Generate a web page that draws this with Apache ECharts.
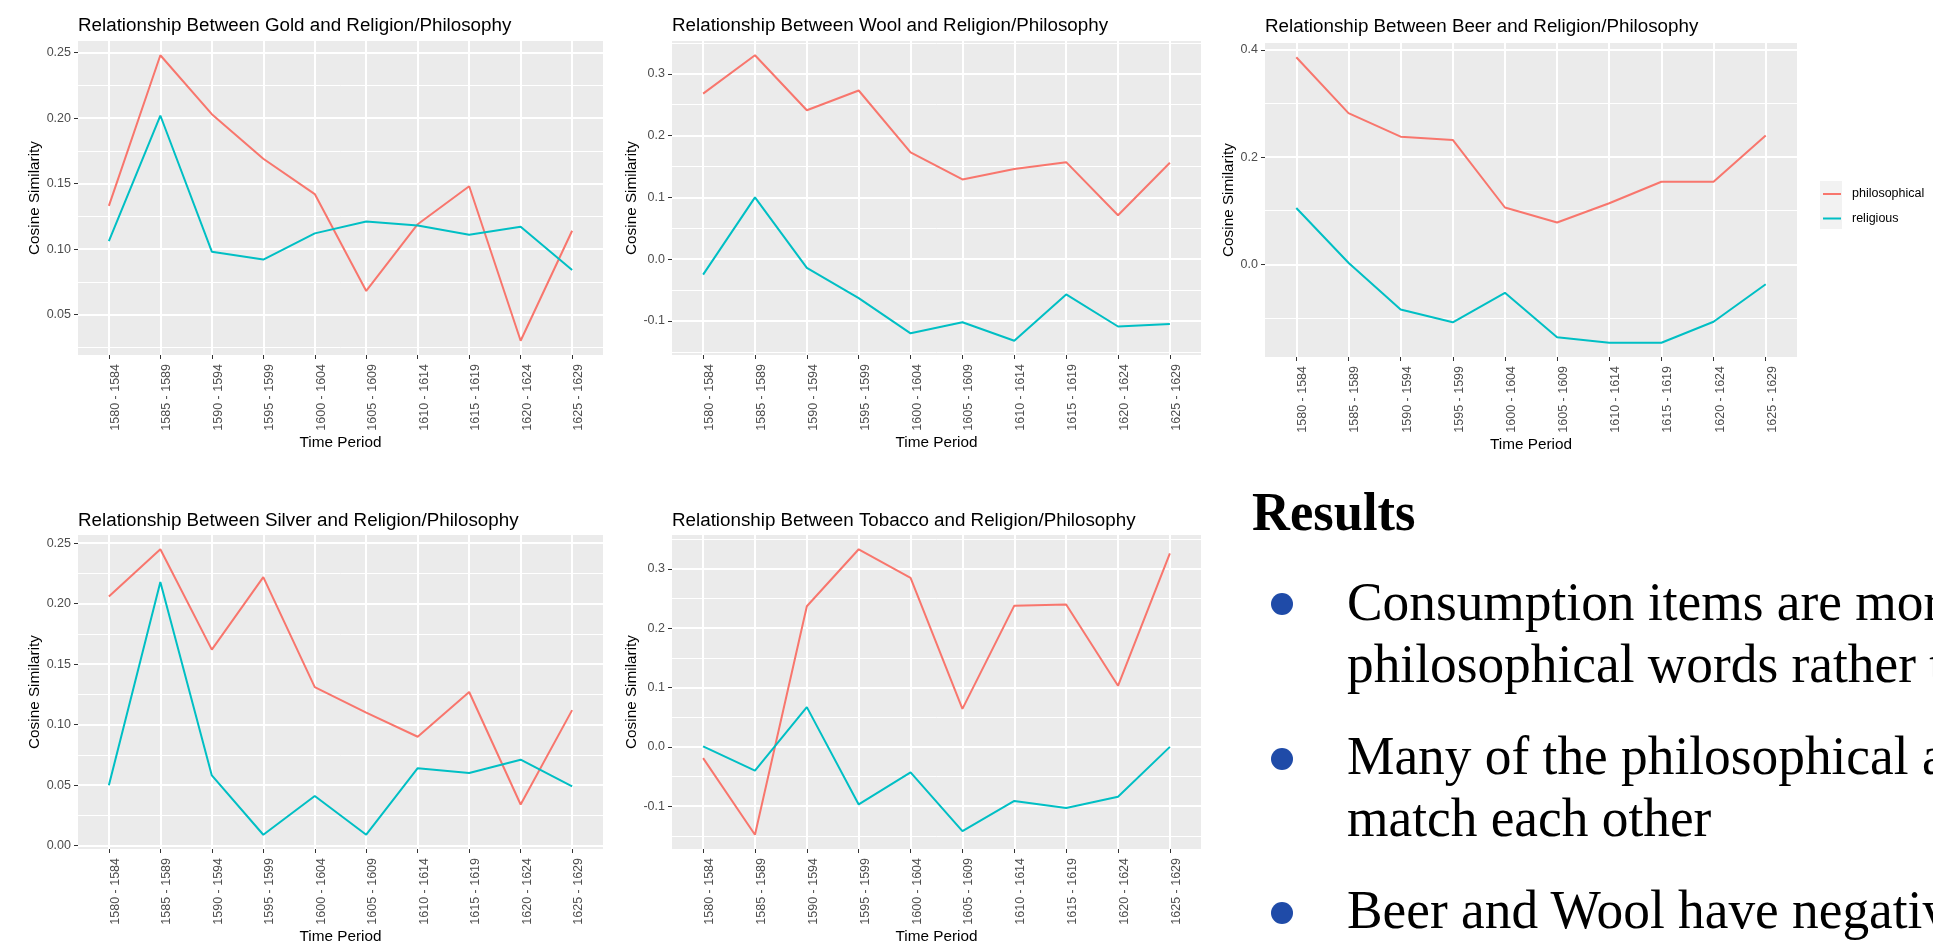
<!DOCTYPE html>
<html><head><meta charset="utf-8">
<script src="https://cdn.jsdelivr.net/npm/echarts@6/dist/echarts.min.js"></script>
<style>
html,body{margin:0;padding:0;background:#fff;width:1933px;height:945px;overflow:hidden;}
#chart{position:absolute;left:0;top:0;width:1933px;height:945px;}
.txt{position:absolute;font-family:"Liberation Serif","Times New Roman",serif;font-size:55px;line-height:55px;color:#000;white-space:nowrap;transform-origin:0 0;transform:scaleX(0.97);}
.bullet{position:absolute;width:22px;height:22px;border-radius:50%;background:#1F4BA8;}
</style></head><body>
<div id="chart"></div>
<div class="txt" style="left:1252px;top:484px;font-weight:bold;transform:scaleX(0.955)">Results</div>
<div class="bullet" style="left:1271px;top:593px"></div>
<div class="txt" style="left:1347px;top:574px">Consumption items are mor</div>
<div class="txt" style="left:1347px;top:636px">philosophical words rather t</div>
<div class="bullet" style="left:1271px;top:748px"></div>
<div class="txt" style="left:1347px;top:728px">Many of the philosophical a</div>
<div class="txt" style="left:1347px;top:790px">match each other</div>
<div class="bullet" style="left:1271px;top:902px"></div>
<div class="txt" style="left:1347px;top:882px">Beer and Wool have negativ</div>
<script>
const periods = ['1580 - 1584','1585 - 1589','1590 - 1594','1595 - 1599','1600 - 1604','1605 - 1609','1610 - 1614','1615 - 1619','1620 - 1624','1625 - 1629'];

const goldPhilosophical = [0.133, 0.248, 0.203, 0.169, 0.142, 0.068, 0.119, 0.148, 0.030, 0.114];
const goldReligious     = [0.106, 0.202, 0.098, 0.092, 0.112, 0.121, 0.118, 0.111, 0.117, 0.084];

const woolPhilosophical = [0.268, 0.330, 0.241, 0.273, 0.173, 0.129, 0.146, 0.157, 0.071, 0.156];
const woolReligious     = [-0.025, 0.100, -0.014, -0.063, -0.120, -0.102, -0.132, -0.057, -0.109, -0.105];

const beerPhilosophical = [0.386, 0.282, 0.238, 0.232, 0.106, 0.078, 0.114, 0.154, 0.154, 0.240];
const beerReligious     = [0.105, 0.003, -0.084, -0.108, -0.053, -0.136, -0.146, -0.146, -0.107, -0.037];

const silverPhilosophical = [0.206, 0.245, 0.162, 0.222, 0.131, 0.110, 0.090, 0.127, 0.034, 0.112];
const silverReligious     = [0.050, 0.218, 0.058, 0.009, 0.041, 0.009, 0.064, 0.060, 0.071, 0.049];

const tobaccoPhilosophical = [-0.019, -0.148, 0.237, 0.333, 0.285, 0.064, 0.238, 0.240, 0.103, 0.326];
const tobaccoReligious     = [0.001, -0.040, 0.067, -0.097, -0.043, -0.142, -0.091, -0.103, -0.084, 0.000];

const goldTicks    = [0.05, 0.10, 0.15, 0.20, 0.25];
const woolTicks    = [-0.1, 0.0, 0.1, 0.2, 0.3];
const beerTicks    = [0.0, 0.2, 0.4];
const silverTicks  = [0.00, 0.05, 0.10, 0.15, 0.20, 0.25];
const tobaccoTicks = [-0.1, 0.0, 0.1, 0.2, 0.3];

const seriesNames = ['philosophical', 'religious'];
const seriesColors = ['#F8766D', '#00BFC4'];

const FONT = '"Liberation Sans", Arial, sans-serif';

const panels = [
  {title:'Relationship Between Gold and Religion/Philosophy', phil:goldPhilosophical, rel:goldReligious, ticks:goldTicks, dec:2,
   left:78, top:41, width:525, height:314, yGap:34, titleTop:16},
  {title:'Relationship Between Wool and Religion/Philosophy', phil:woolPhilosophical, rel:woolReligious, ticks:woolTicks, dec:1,
   left:672, top:41, width:529, height:314, yGap:31, titleTop:16},
  {title:'Relationship Between Beer and Religion/Philosophy', phil:beerPhilosophical, rel:beerReligious, ticks:beerTicks, dec:1,
   left:1265, top:43, width:532, height:314, yGap:28, titleTop:17},
  {title:'Relationship Between Silver and Religion/Philosophy', phil:silverPhilosophical, rel:silverReligious, ticks:silverTicks, dec:2,
   left:78, top:535, width:525, height:314, yGap:34, titleTop:511},
  {title:'Relationship Between Tobacco and Religion/Philosophy', phil:tobaccoPhilosophical, rel:tobaccoReligious, ticks:tobaccoTicks, dec:1,
   left:672, top:535, width:529, height:314, yGap:31, titleTop:511}
];

const idx = periods.map((p, i) => i);
const grid = [], xAxis = [], yAxis = [], series = [], title = [];

panels.forEach((p, i) => {
  const all = p.phil.concat(p.rel);
  const lo = Math.min.apply(null, all), hi = Math.max.apply(null, all);
  const pad = (hi - lo) * 0.05;
  const ymin = lo - pad, ymax = hi + pad;
  const step = p.ticks[1] - p.ticks[0];
  const minor = [p.ticks[0] - step / 2].concat(p.ticks.map(t => t + step / 2)).filter(v => v > ymin && v < ymax);

  grid.push({left:p.left, top:p.top, width:p.width, height:p.height, show:true,
    backgroundColor:'#EBEBEB', borderWidth:0, containLabel:false, outerBoundsMode:'none'});

  title.push({text:p.title, left:p.left, top:p.titleTop, padding:0,
    textStyle:{fontSize:18.8, fontWeight:'normal', color:'#000', fontFamily:FONT}});

  xAxis.push({type:'value', gridIndex:i, min:-0.6, max:9.6, position:'bottom',
    axisLine:{show:false, onZero:false},
    axisTick:{show:true, length:4, lineStyle:{color:'#333333', width:1}, customValues:idx},
    axisLabel:{customValues:idx, rotate:90, margin:9, verticalAlign:'top', color:'#4D4D4D', fontSize:12.5, fontFamily:FONT,
      formatter: v => periods[Math.round(v)]},
    splitLine:{show:true, lineStyle:{color:'#FFFFFF', width:2}},
    name:'Time Period', nameLocation:'middle', nameGap:80,
    nameTextStyle:{color:'#000', fontSize:15.3, fontFamily:FONT}});

  yAxis.push({type:'value', gridIndex:i, min:ymin, max:ymax, position:'left',
    axisLine:{show:false, onZero:false},
    axisTick:{show:true, length:4, lineStyle:{color:'#333333', width:1}, customValues:p.ticks},
    axisLabel:{customValues:p.ticks, margin:7, color:'#4D4D4D', fontSize:12.5, fontFamily:FONT,
      formatter: v => v.toFixed(p.dec)},
    splitLine:{show:true, lineStyle:{color:'#FFFFFF', width:2}},
    name:'Cosine Similarity', nameLocation:'middle', nameGap:p.yGap,
    nameTextStyle:{color:'#000', fontSize:15.3, fontFamily:FONT}});

  yAxis.push({type:'value', gridIndex:i, min:ymin, max:ymax, position:'right',
    axisLine:{show:false, onZero:false},
    axisTick:{show:false, customValues:minor},
    axisLabel:{show:false, customValues:minor},
    splitLine:{show:true, lineStyle:{color:'#FFFFFF', width:1}}});

  [p.phil, p.rel].forEach((vals, k) => {
    series.push({type:'line', name:seriesNames[k], xAxisIndex:i, yAxisIndex:2 * i,
      data: vals.map((v, j) => [j, v]),
      symbol:'none', color:seriesColors[k],
      lineStyle:{color:seriesColors[k], width:2}, z:2 + k});
  });
});

const chart = echarts.init(document.getElementById('chart'), null, {renderer:'canvas'});
chart.setOption({
  animation:false,
  backgroundColor:'transparent',
  textStyle:{fontFamily:FONT},
  title: title,
  grid: grid,
  xAxis: xAxis,
  yAxis: yAxis,
  series: series,
  legend:{orient:'vertical', left:1823, top:187.5, padding:0, itemWidth:18, itemHeight:2, itemGap:11.5, icon:'rect',
    data:seriesNames, selectedMode:false,
    itemStyle:{borderWidth:0},
    textStyle:{fontSize:12.5, color:'#000', fontFamily:FONT, padding:[0,0,0,6]}},
  graphic:{elements:[{type:'rect', silent:true, z:-1, shape:{x:1820, y:181, width:22, height:48}, style:{fill:'#F2F2F2'}}]}
});
</script>
</body></html>
